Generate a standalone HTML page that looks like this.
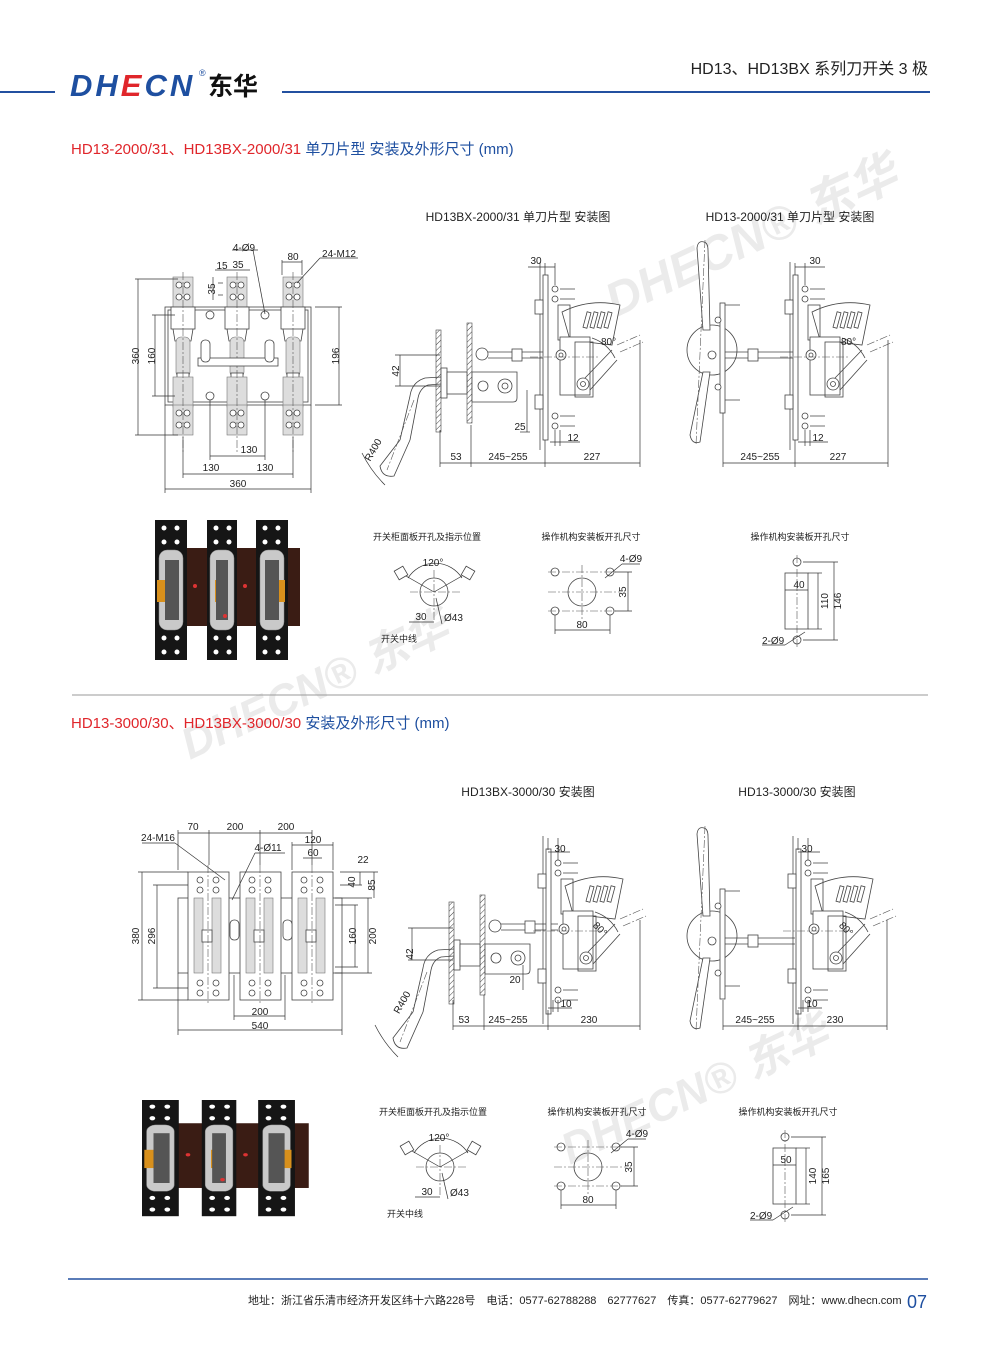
<!DOCTYPE html>
<html><head><meta charset="utf-8"><style>
html,body{margin:0;padding:0;background:#fff}
svg{display:block}
text{font-family:"Liberation Sans","Noto Sans CJK SC",sans-serif;fill:#222}
.d{stroke:#333;stroke-width:.7;fill:none}
.l{stroke:#444;stroke-width:.8;fill:none}
.f{stroke:#444;stroke-width:.8;fill:#fff}
.g{stroke:#777;stroke-width:.6;fill:#ddd}
.c{stroke:#555;stroke-width:.6;fill:none;stroke-dasharray:8 2 2 2}
.s{font-size:10px}
.wm{font-family:"Liberation Sans","Noto Sans CJK SC",sans-serif;font-weight:bold;font-style:italic;fill:#ebebeb}
</style></head><body>
<svg width="1000" height="1357" viewBox="0 0 1000 1357" xmlns="http://www.w3.org/2000/svg">
<defs>
<pattern id="h" width="4" height="4" patternUnits="userSpaceOnUse" patternTransform="rotate(45)"><line x1="0" y1="0" x2="0" y2="4" stroke="#444" stroke-width="1"/></pattern>
<g id="mech">
 <rect x="543" y="275" width="5" height="165" class="f"/>
 <line x1="540" y1="262" x2="540" y2="450" class="d"/>
 <rect x="535" y="300" width="8" height="14" class="f"/><rect x="535" y="395" width="8" height="14" class="f"/>
 <g class="f"><circle cx="555" cy="289" r="3"/><circle cx="555" cy="299" r="3"/><circle cx="555" cy="416" r="3"/><circle cx="555" cy="426" r="3"/></g>
 <line x1="560" y1="289" x2="575" y2="289" class="d"/><line x1="560" y1="299" x2="575" y2="299" class="d"/>
 <line x1="560" y1="416" x2="575" y2="416" class="d"/><line x1="560" y1="426" x2="575" y2="426" class="d"/>
 <path d="M562 312 Q590 298 620 305 L612 345 L570 340 Z" class="f"/>
 <g class="f"><rect x="585" y="312" width="4" height="16" transform="rotate(15 587 320)"/><rect x="592" y="312" width="4" height="16" transform="rotate(15 594 320)"/><rect x="599" y="312" width="4" height="16" transform="rotate(15 601 320)"/><rect x="606" y="312" width="4" height="16" transform="rotate(15 608 320)"/></g>
 <rect x="558" y="305" width="12" height="35" class="l"/>
 <rect x="560" y="337" width="30" height="58" class="f"/>
 <rect x="575" y="342" width="18" height="55" class="l"/>
 <circle cx="561" cy="355" r="5" class="f"/><circle cx="561" cy="355" r="2" class="l"/>
 <circle cx="583" cy="384" r="6" class="f"/><circle cx="583" cy="384" r="2.5" class="l"/>
 <path d="M592 338 A40 40 0 0 1 615 358" class="l"/>
 <line x1="585" y1="378" x2="612" y2="350" class="l"/><line x1="590" y1="390" x2="617" y2="360" class="l"/>
 <line x1="617" y1="345" x2="640" y2="335" class="c"/><line x1="620" y1="352" x2="643" y2="342" class="c"/>
 <line x1="530" y1="357" x2="600" y2="357" class="c"/>
</g>
<g id="busv">
 <rect x="-10" y="0" width="20" height="30" class="g"/>
 <circle cx="-4" cy="8" r="3" class="f"/><circle cx="4" cy="8" r="3" class="f"/><circle cx="-4" cy="20" r="3" class="f"/><circle cx="4" cy="20" r="3" class="f"/>
</g>
<g id="pole">
 <use href="#busv" y="0"/>
 <rect x="-12" y="30" width="24" height="22" class="f"/>
 <path d="M-10 52 L-8 64 L8 64 L10 52" class="l"/>
 <rect x="-7" y="60" width="14" height="40" rx="5" class="g"/>
 <rect x="-6" y="96" width="12" height="18" class="f"/>
 <rect x="-10" y="100" width="20" height="30" class="g"/>
 <use href="#busv" y="128"/>
 <line x1="0" y1="-5" x2="0" y2="175" class="c"/>
</g>
<g id="photo">
 <rect x="10" y="28" width="135" height="78" fill="#3a1c14"/>
 <g fill="#151515"><rect x="0" y="0" width="32" height="140"/><rect x="52" y="0" width="30" height="140"/><rect x="101" y="0" width="32" height="140"/></g>
 <g fill="#fff"><circle cx="9" cy="8" r="2.5"/><circle cx="22" cy="8" r="2.5"/><circle cx="9" cy="22" r="2.5"/><circle cx="22" cy="22" r="2.5"/><circle cx="9" cy="118" r="2.5"/><circle cx="22" cy="118" r="2.5"/><circle cx="9" cy="132" r="2.5"/><circle cx="22" cy="132" r="2.5"/>
 <circle cx="61" cy="8" r="2.5"/><circle cx="74" cy="8" r="2.5"/><circle cx="61" cy="22" r="2.5"/><circle cx="74" cy="22" r="2.5"/><circle cx="61" cy="118" r="2.5"/><circle cx="74" cy="118" r="2.5"/><circle cx="61" cy="132" r="2.5"/><circle cx="74" cy="132" r="2.5"/>
 <circle cx="110" cy="8" r="2.5"/><circle cx="123" cy="8" r="2.5"/><circle cx="110" cy="22" r="2.5"/><circle cx="123" cy="22" r="2.5"/><circle cx="110" cy="118" r="2.5"/><circle cx="123" cy="118" r="2.5"/><circle cx="110" cy="132" r="2.5"/><circle cx="123" cy="132" r="2.5"/></g>
 <g fill="#c9c9c9" stroke="#888" stroke-width=".5"><rect x="4" y="30" width="24" height="80" rx="8"/><rect x="55" y="30" width="24" height="80" rx="8"/><rect x="105" y="30" width="24" height="80" rx="8"/></g>
 <g fill="#d8901c"><rect x="2" y="60" width="8" height="22"/><rect x="60" y="60" width="8" height="22"/><rect x="122" y="60" width="8" height="22"/></g>
 <g fill="#555"><rect x="10" y="40" width="14" height="60"/><rect x="61" y="40" width="12" height="60"/><rect x="110" y="40" width="14" height="60"/></g>
 <g fill="#d33"><circle cx="40" cy="66" r="2"/><circle cx="90" cy="66" r="2"/><circle cx="70" cy="96" r="2"/></g>
</g>
<g id="rectbase">
<rect x="785" y="573" width="23" height="56" class="l"/>
<circle cx="797" cy="562" r="4" class="f"/><circle cx="797" cy="640" r="4" class="f"/>
<line x1="797" y1="555" x2="797" y2="648" class="c"/>
<g class="d"><line x1="785" y1="590" x2="808" y2="590"/>
<line x1="808" y1="573" x2="822" y2="573"/><line x1="808" y1="629" x2="822" y2="629"/><line x1="818" y1="573" x2="818" y2="629"/>
<line x1="803" y1="562" x2="838" y2="562"/><line x1="803" y1="640" x2="838" y2="640"/><line x1="834" y1="562" x2="834" y2="640"/>
<line x1="762" y1="645" x2="785" y2="645"/><line x1="785" y1="645" x2="805" y2="632"/></g>
<text x="762" y="644" class="s">2-Ø9</text>
<text x="800" y="540" font-size="9" text-anchor="middle">操作机构安装板开孔尺寸</text>
</g>
</defs>

<!-- header -->
<line x1="0" y1="92" x2="55" y2="92" stroke="#2350a0" stroke-width="2"/>
<line x1="282" y1="92" x2="930" y2="92" stroke="#2350a0" stroke-width="2"/>
<text x="70" y="96" font-size="31" font-weight="bold" font-style="italic" letter-spacing="3" style="fill:#1e4fa0">DH<tspan style="fill:#e0262b">E</tspan>CN</text>
<text x="199" y="76" font-size="9" style="fill:#1e4fa0">®</text>
<text x="208" y="95" font-size="25" font-weight="bold" style="fill:#111">东华</text>
<text x="928" y="74" font-size="16" text-anchor="end" style="fill:#222">HD13、HD13BX 系列刀开关 3 极</text>

<!-- watermarks -->
<text x="615" y="318" class="wm" font-size="48" transform="rotate(-25 615 318)">DHECN® 东华</text>
<text x="190" y="760" class="wm" font-size="44" transform="rotate(-25 190 760)">DHECN® 东华</text>
<text x="570" y="1165" class="wm" font-size="44" transform="rotate(-25 570 1165)">DHECN® 东华</text>

<!-- section 1 title -->
<text x="71" y="154" font-size="15"><tspan style="fill:#e0262b">HD13-2000/31、HD13BX-2000/31 </tspan><tspan style="fill:#1e4fa0">单刀片型 安装及外形尺寸 (mm)</tspan></text>
<text x="518" y="221" font-size="12" text-anchor="middle">HD13BX-2000/31 单刀片型 安装图</text>
<text x="790" y="221" font-size="12" text-anchor="middle">HD13-2000/31 单刀片型 安装图</text>

<!-- front view 1 -->
<rect x="165" y="307" width="146" height="98" class="l"/>
<rect x="168" y="310" width="140" height="92" class="l"/>
<use href="#pole" x="183" y="277"/><use href="#pole" x="237" y="277"/><use href="#pole" x="293" y="277"/>
<rect x="198" y="358" width="80" height="8" class="f"/>
<rect x="201" y="340" width="9" height="22" rx="4" class="f"/><rect x="265" y="340" width="9" height="22" rx="4" class="f"/>
<g class="f"><circle cx="210" cy="315" r="4"/><circle cx="265" cy="315" r="4"/><circle cx="210" cy="396" r="4"/><circle cx="265" cy="396" r="4"/></g>
<g class="d">
<line x1="135" y1="279" x2="178" y2="279"/><line x1="135" y1="435" x2="178" y2="435"/><line x1="138" y1="279" x2="138" y2="435"/>
<line x1="152" y1="315" x2="175" y2="315"/><line x1="152" y1="396" x2="175" y2="396"/><line x1="155" y1="315" x2="155" y2="396"/>
<line x1="315" y1="307" x2="342" y2="307"/><line x1="315" y1="405" x2="342" y2="405"/><line x1="339" y1="307" x2="339" y2="405"/>
<line x1="165" y1="405" x2="165" y2="493"/><line x1="311" y1="405" x2="311" y2="493"/><line x1="165" y1="489" x2="311" y2="489"/>
<line x1="183" y1="437" x2="183" y2="478"/><line x1="293" y1="437" x2="293" y2="478"/><line x1="183" y1="474" x2="293" y2="474"/>
<line x1="210" y1="400" x2="210" y2="460"/><line x1="265" y1="400" x2="265" y2="460"/><line x1="210" y1="456" x2="265" y2="456"/>
<line x1="282" y1="260" x2="282" y2="275"/><line x1="302" y1="260" x2="302" y2="275"/><line x1="282" y1="262" x2="302" y2="262"/>
<line x1="215" y1="270" x2="250" y2="270"/><line x1="213" y1="277" x2="213" y2="300"/><line x1="218" y1="283" x2="223" y2="283"/><line x1="218" y1="295" x2="223" y2="295"/>
<line x1="232" y1="250" x2="258" y2="250"/><line x1="253" y1="250" x2="265" y2="314"/>
<line x1="320" y1="258" x2="358" y2="258"/><line x1="320" y1="258" x2="297" y2="283"/>
</g>
<g class="s">
<text x="244" y="251" text-anchor="middle">4-Ø9</text>
<text x="222" y="269" text-anchor="middle">15</text><text x="238" y="268" text-anchor="middle">35</text>
<text x="293" y="260" text-anchor="middle">80</text><text x="339" y="257" text-anchor="middle">24-M12</text>
<text x="212" y="292" text-anchor="middle" transform="rotate(-90 212 289)">35</text>
<text x="136" y="359" transform="rotate(-90 136 356)" text-anchor="middle">360</text>
<text x="152" y="359" transform="rotate(-90 152 356)" text-anchor="middle">160</text>
<text x="336" y="359" transform="rotate(-90 336 356)" text-anchor="middle">196</text>
<text x="249" y="453" text-anchor="middle">130</text>
<text x="211" y="471" text-anchor="middle">130</text><text x="265" y="471" text-anchor="middle">130</text>
<text x="238" y="487" text-anchor="middle">360</text>
</g>

<!-- BX side view 1 -->
<g id="bxleft">
<rect x="436" y="330" width="5" height="102" fill="url(#h)" stroke="#444" stroke-width=".6"/>
<rect x="467" y="323" width="5" height="100" fill="url(#h)" stroke="#444" stroke-width=".6"/>
<rect x="441" y="368" width="6" height="30" class="f"/>
<rect x="447" y="372" width="20" height="22" class="f"/>
<path d="M472 372 L517 372 L517 398 Q517 402 513 402 L472 402 Z" class="f"/>
<circle cx="483" cy="386" r="5" class="f"/><circle cx="505" cy="386" r="7" class="f"/><circle cx="505" cy="386" r="3" class="l"/>
<circle cx="482" cy="354" r="6" class="f"/>
<line x1="488" y1="352" x2="545" y2="352" class="l"/><line x1="488" y1="358" x2="545" y2="358" class="l"/>
<rect x="512" y="349" width="10" height="12" class="f"/>
<path d="M441 377 L425 378 Q412 382 410 396 L400 440" class="l"/>
<path d="M441 384 L428 385 Q420 388 418 398 L410 440" class="l"/>
<path d="M400 440 L380 466 Q382 478 394 476 L410 440" class="f"/>
<line x1="414" y1="400" x2="387" y2="470" class="c"/>
<path d="M362 453 A120 120 0 0 0 385 485" class="d"/>
</g>
<use href="#mech"/>
<g class="d">
<line x1="440" y1="430" x2="440" y2="467"/><line x1="471" y1="425" x2="471" y2="467"/><line x1="545" y1="440" x2="545" y2="467"/><line x1="640" y1="340" x2="640" y2="467"/>
<line x1="440" y1="463" x2="640" y2="463"/>
<line x1="545" y1="263" x2="545" y2="275"/><line x1="555" y1="263" x2="555" y2="285"/><line x1="528" y1="267" x2="555" y2="267"/>
<line x1="395" y1="355" x2="440" y2="355"/><line x1="395" y1="386" x2="440" y2="386"/><line x1="400" y1="355" x2="400" y2="386"/>
<line x1="527" y1="390" x2="527" y2="432"/><line x1="520" y1="432" x2="530" y2="432"/>
<line x1="555" y1="430" x2="555" y2="446"/><line x1="560" y1="430" x2="560" y2="446"/><line x1="550" y1="442" x2="580" y2="442"/>
</g>
<g class="s">
<text x="536" y="264" text-anchor="middle">30</text>
<text x="396" y="374" transform="rotate(-90 396 371)" text-anchor="middle">42</text>
<text x="520" y="430" text-anchor="middle">25</text><text x="573" y="441" text-anchor="middle">12</text>
<text x="601" y="345">80°</text>
<text x="456" y="460" text-anchor="middle">53</text><text x="508" y="460" text-anchor="middle">245~255</text><text x="592" y="460" text-anchor="middle">227</text>
<text x="370" y="455" transform="rotate(-60 370 448)" text-anchor="middle">R400</text>
</g>

<!-- HD13 side view 1 -->
<g id="hdleft">
<circle cx="712" cy="350" r="25" class="f"/>
<rect x="720" y="303" width="5" height="110" class="f"/>
<path d="M725 305 L740 305 M725 400 L740 400" class="l"/>
<g class="f"><circle cx="718" cy="320" r="3"/><circle cx="718" cy="387" r="3"/></g>
<line x1="725" y1="352" x2="795" y2="352" class="l"/><line x1="725" y1="358" x2="795" y2="358" class="l"/>
<rect x="748" y="349" width="10" height="12" class="f"/>
<path d="M704 242 Q698 240 697 248 L703 330 L710 330 L708 250 Q708 243 704 242 Z" class="f"/>
<path d="M703 372 L690 435 Q692 445 700 442 L710 372 Z" class="f"/>
<line x1="705" y1="240" x2="696" y2="445" class="c"/>
<circle cx="712" cy="355" r="4" class="f"/>
</g>
<use href="#mech" x="250"/>
<g class="d">
<line x1="723" y1="413" x2="723" y2="467"/><line x1="795" y1="440" x2="795" y2="467"/><line x1="888" y1="340" x2="888" y2="467"/>
<line x1="723" y1="463" x2="888" y2="463"/>
<line x1="795" y1="263" x2="795" y2="275"/><line x1="805" y1="263" x2="805" y2="285"/><line x1="795" y1="267" x2="825" y2="267"/>
<line x1="805" y1="430" x2="805" y2="446"/><line x1="810" y1="430" x2="810" y2="446"/><line x1="798" y1="442" x2="828" y2="442"/>
</g>
<g class="s">
<text x="815" y="264" text-anchor="middle">30</text><text x="818" y="441" text-anchor="middle">12</text>
<text x="841" y="345">80°</text>
<text x="760" y="460" text-anchor="middle">245~255</text><text x="838" y="460" text-anchor="middle">227</text>
</g>

<!-- photo 1 -->
<use href="#photo" x="155" y="520"/>

<!-- small diagrams 1 -->
<g id="small1">
<text x="427" y="540" font-size="9" text-anchor="middle">开关柜面板开孔及指示位置</text>
<circle cx="434" cy="592" r="14" class="l"/>
<line x1="410" y1="592" x2="460" y2="592" class="c"/><line x1="434" y1="570" x2="434" y2="620" class="c"/>
<path d="M408 578 A32 32 0 0 1 462 578" class="d"/>
<line x1="434" y1="592" x2="406" y2="576" class="d"/><line x1="434" y1="592" x2="462" y2="576" class="d"/>
<rect x="396" y="568" width="10" height="10" class="l" transform="rotate(-30 401 573)"/>
<rect x="463" y="568" width="10" height="10" class="l" transform="rotate(30 468 573)"/>
<line x1="409" y1="622" x2="434" y2="622" class="d"/><line x1="409" y1="592" x2="409" y2="626"/>
<line x1="436" y1="598" x2="442" y2="624" class="d"/>
<text x="433" y="566" class="s" text-anchor="middle">120°</text>
<text x="421" y="620" class="s" text-anchor="middle">30</text><text x="444" y="621" class="s">Ø43</text>
<text x="381" y="642" font-size="9">开关中线</text>
<text x="591" y="540" font-size="9" text-anchor="middle">操作机构安装板开孔尺寸</text>
<circle cx="582" cy="592" r="14" class="l"/>
<g class="f"><circle cx="555" cy="572" r="4"/><circle cx="610" cy="572" r="4"/><circle cx="555" cy="611" r="4"/><circle cx="610" cy="611" r="4"/></g>
<line x1="548" y1="592" x2="620" y2="592" class="c"/><line x1="582" y1="565" x2="582" y2="620" class="c"/>
<line x1="548" y1="572" x2="618" y2="572" class="c"/><line x1="548" y1="611" x2="618" y2="611" class="c"/>
<g class="d"><line x1="555" y1="615" x2="555" y2="634"/><line x1="610" y1="615" x2="610" y2="634"/><line x1="555" y1="630" x2="610" y2="630"/>
<line x1="615" y1="572" x2="632" y2="572"/><line x1="615" y1="611" x2="632" y2="611"/><line x1="628" y1="572" x2="628" y2="611"/>
<line x1="605" y1="578" x2="622" y2="564"/><line x1="622" y1="564" x2="640" y2="564"/></g>
<text x="582" y="628" class="s" text-anchor="middle">80</text>
<text x="623" y="595" class="s" transform="rotate(-90 623 592)" text-anchor="middle">35</text>
<text x="631" y="562" class="s" text-anchor="middle">4-Ø9</text>
</g>
<use href="#rectbase"/>
<text x="799" y="588" class="s" text-anchor="middle">40</text>
<text x="825" y="604" class="s" transform="rotate(-90 825 601)" text-anchor="middle">110</text>
<text x="838" y="604" class="s" transform="rotate(-90 838 601)" text-anchor="middle">146</text>

<line x1="72" y1="695" x2="928" y2="695" stroke="#999" stroke-width="1"/>

<!-- section 2 -->
<text x="71" y="728" font-size="15"><tspan style="fill:#e0262b">HD13-3000/30、HD13BX-3000/30 </tspan><tspan style="fill:#1e4fa0">安装及外形尺寸 (mm)</tspan></text>
<text x="528" y="796" font-size="12" text-anchor="middle">HD13BX-3000/30 安装图</text>
<text x="797" y="796" font-size="12" text-anchor="middle">HD13-3000/30 安装图</text>

<!-- front view 2 -->
<rect x="178" y="898" width="164" height="75" class="l"/>
<g id="mod3">
<rect x="188" y="872" width="41" height="128" class="f"/>
<g class="f"><circle cx="200" cy="880" r="3"/><circle cx="216" cy="880" r="3"/><circle cx="200" cy="890" r="3"/><circle cx="216" cy="890" r="3"/><circle cx="200" cy="983" r="3"/><circle cx="216" cy="983" r="3"/><circle cx="200" cy="993" r="3"/><circle cx="216" cy="993" r="3"/></g>
<rect x="194" y="898" width="9" height="75" class="g"/><rect x="212" y="898" width="9" height="75" class="g"/>
<rect x="202" y="930" width="10" height="12" class="f"/>
<line x1="208" y1="865" x2="208" y2="1005" class="c"/>
</g>
<use href="#mod3" x="52"/><use href="#mod3" x="104"/>
<rect x="230" y="920" width="9" height="20" rx="4" class="f"/><rect x="283" y="920" width="9" height="20" rx="4" class="f"/>
<g class="d">
<line x1="138" y1="872" x2="188" y2="872"/><line x1="138" y1="1000" x2="188" y2="1000"/><line x1="142" y1="872" x2="142" y2="1000"/>
<line x1="153" y1="885" x2="188" y2="885"/><line x1="153" y1="988" x2="188" y2="988"/><line x1="157" y1="885" x2="157" y2="988"/>
<line x1="335" y1="898" x2="372" y2="898"/><line x1="335" y1="973" x2="372" y2="973"/><line x1="368" y1="898" x2="368" y2="973"/>
<line x1="335" y1="905" x2="358" y2="905"/><line x1="335" y1="967" x2="358" y2="967"/><line x1="355" y1="905" x2="355" y2="967"/>
<line x1="340" y1="872" x2="378" y2="872"/><line x1="374" y1="872" x2="374" y2="898"/><line x1="340" y1="885" x2="362" y2="885"/><line x1="360" y1="872" x2="360" y2="885"/>
<line x1="178" y1="973" x2="178" y2="1035"/><line x1="342" y1="973" x2="342" y2="1035"/><line x1="178" y1="1030" x2="342" y2="1030"/>
<line x1="234" y1="975" x2="234" y2="1020"/><line x1="285" y1="975" x2="285" y2="1020"/><line x1="234" y1="1016" x2="285" y2="1016"/>
<line x1="178" y1="833" x2="209" y2="833"/><line x1="209" y1="833" x2="260" y2="833"/><line x1="260" y1="833" x2="312" y2="833"/><line x1="178" y1="830" x2="178" y2="870"/><line x1="209" y1="830" x2="209" y2="865"/><line x1="260" y1="830" x2="260" y2="865"/><line x1="312" y1="830" x2="312" y2="865"/>
<line x1="292" y1="845" x2="333" y2="845"/><line x1="292" y1="842" x2="292" y2="870"/><line x1="333" y1="842" x2="333" y2="870"/>
<line x1="303" y1="858" x2="322" y2="858"/>
<line x1="142" y1="843" x2="175" y2="843"/><line x1="175" y1="843" x2="225" y2="880"/>
<line x1="255" y1="853" x2="285" y2="853"/><line x1="255" y1="853" x2="232" y2="900"/>
</g>
<g class="s">
<text x="193" y="830" text-anchor="middle">70</text><text x="235" y="830" text-anchor="middle">200</text><text x="286" y="830" text-anchor="middle">200</text>
<text x="313" y="843" text-anchor="middle">120</text><text x="313" y="856" text-anchor="middle">60</text>
<text x="158" y="841" text-anchor="middle">24-M16</text><text x="268" y="851" text-anchor="middle">4-Ø11</text>
<text x="363" y="863" text-anchor="middle">22</text>
<text x="352" y="885" transform="rotate(-90 352 882)" text-anchor="middle">40</text>
<text x="372" y="888" transform="rotate(-90 372 885)" text-anchor="middle">85</text>
<text x="136" y="939" transform="rotate(-90 136 936)" text-anchor="middle">380</text>
<text x="152" y="939" transform="rotate(-90 152 936)" text-anchor="middle">296</text>
<text x="353" y="939" transform="rotate(-90 353 936)" text-anchor="middle">160</text>
<text x="373" y="939" transform="rotate(-90 373 936)" text-anchor="middle">200</text>
<text x="260" y="1015" text-anchor="middle">200</text><text x="260" y="1029" text-anchor="middle">540</text>
</g>

<!-- side views 2 -->
<use href="#bxleft" x="13" y="572"/>
<use href="#mech" x="3" y="574"/>
<g class="d">
<line x1="453" y1="1000" x2="453" y2="1030"/><line x1="484" y1="995" x2="484" y2="1030"/><line x1="548" y1="1010" x2="548" y2="1030"/><line x1="640" y1="920" x2="640" y2="1030"/>
<line x1="453" y1="1026" x2="640" y2="1026"/>
<line x1="548" y1="838" x2="548" y2="850"/><line x1="558" y1="838" x2="558" y2="860"/><line x1="548" y1="852" x2="570" y2="852"/>
<line x1="408" y1="928" x2="453" y2="928"/><line x1="408" y1="960" x2="453" y2="960"/><line x1="412" y1="928" x2="412" y2="960"/>
<line x1="523" y1="965" x2="523" y2="990"/>
<line x1="553" y1="1000" x2="553" y2="1012"/><line x1="558" y1="1000" x2="558" y2="1012"/><line x1="548" y1="1008" x2="572" y2="1008"/>
</g>
<g class="s">
<text x="560" y="852" text-anchor="middle">30</text>
<text x="410" y="957" transform="rotate(-90 410 954)" text-anchor="middle">42</text>
<text x="515" y="983" text-anchor="middle">20</text><text x="566" y="1007" text-anchor="middle">10</text>
<text x="594" y="930" transform="rotate(45 598 926)">80°</text>
<text x="464" y="1023" text-anchor="middle">53</text><text x="508" y="1023" text-anchor="middle">245~255</text><text x="589" y="1023" text-anchor="middle">230</text>
<text x="398" y="1008" transform="rotate(-60 398 1000)" text-anchor="middle">R400</text>
</g>
<use href="#hdleft" y="586"/>
<use href="#mech" x="253" y="574"/>
<g class="d">
<line x1="723" y1="1000" x2="723" y2="1030"/><line x1="798" y1="1010" x2="798" y2="1030"/><line x1="887" y1="920" x2="887" y2="1030"/>
<line x1="723" y1="1026" x2="887" y2="1026"/>
<line x1="798" y1="838" x2="798" y2="850"/><line x1="808" y1="838" x2="808" y2="860"/><line x1="798" y1="852" x2="820" y2="852"/>
<line x1="803" y1="1000" x2="803" y2="1012"/><line x1="808" y1="1000" x2="808" y2="1012"/><line x1="798" y1="1008" x2="822" y2="1008"/>
</g>
<g class="s">
<text x="807" y="852" text-anchor="middle">30</text><text x="812" y="1007" text-anchor="middle">10</text>
<text x="840" y="930" transform="rotate(45 844 926)">80°</text>
<text x="755" y="1023" text-anchor="middle">245~255</text><text x="835" y="1023" text-anchor="middle">230</text>
</g>

<!-- photo 2 -->
<use href="#photo" transform="translate(142 1100) scale(1.15 0.83)"/>

<!-- small diagrams 2 -->
<use href="#small1" x="6" y="575"/>
<use href="#rectbase" x="-12" y="575"/>
<text x="786" y="1163" class="s" text-anchor="middle">50</text>
<text x="813" y="1179" class="s" transform="rotate(-90 813 1176)" text-anchor="middle">140</text>
<text x="826" y="1179" class="s" transform="rotate(-90 826 1176)" text-anchor="middle">165</text>

<!-- footer -->
<line x1="68" y1="1279" x2="928" y2="1279" stroke="#2350a0" stroke-width="1.5"/>
<text x="248" y="1304" font-size="11">地址：浙江省乐清市经济开发区纬十六路228号　电话：0577-62788288　62777627　传真：0577-62779627　网址：www.dhecn.com</text>
<text x="907" y="1308" font-size="18" style="fill:#1e4fa0">07</text>
</svg>
</body></html>
